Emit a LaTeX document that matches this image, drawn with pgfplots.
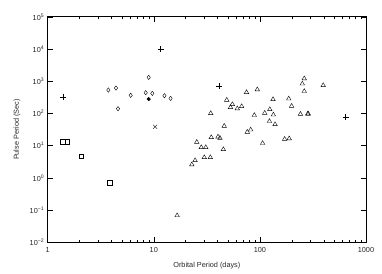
\documentclass[border=0pt]{standalone}
\usepackage{fontspec}
\setmainfont{Liberation Sans}
\usepackage{pgfplots}
\pgfplotsset{compat=1.18}
\begin{document}
\begin{tikzpicture}
\useasboundingbox (-47.7pt,-30.7pt) rectangle (334.3pt,242.3pt);
\begin{axis}[
 at={(0,0)}, anchor=south west, scale only axis,
 width=318.3pt, height=225.5pt,
 xmode=log, ymode=log,
 xmin=1, xmax=1000, ymin=1e-2, ymax=1e5,
 xtick={1,10,100,1000}, xticklabels={1,10,100,1000},
 ytick={1e-2,1e-1,1,10,100,1e3,1e4,1e5},
 yticklabels={10\textsuperscript{−2},10\textsuperscript{−1},10\textsuperscript{0},10\textsuperscript{1},10\textsuperscript{2},10\textsuperscript{3},10\textsuperscript{4},10\textsuperscript{5}},
 yminorticks=false,
 tick align=inside, xtick pos=both, ytick pos=both,
 major tick length=5pt, minor tick length=2.5pt,
 font=\fontsize{7.3}{8.5}\selectfont,
 tick label style={black!85},
 xticklabel style={yshift=-2pt},
 xlabel={Orbital Period (days)}, ylabel={Pulse Period (Sec)},
 label style={black!85},
 xlabel style={yshift=-2.5pt},
 ylabel style={yshift=2.5pt},
 axis line style={line width=0.6pt},
 every tick/.style={black, line width=0.5pt},
]
% plus
\addplot[only marks, mark=+, mark size=3pt, line width=0.45pt] coordinates {
(1.39,330) (11.6,9800) (41.4,695) (644,75.7)};
% diamonds
\addplot[only marks, mark=diamond, mark size=2.2pt, line width=0.4pt] coordinates {
(3.73,533) (4.40,615) (6.06,365) (4.60,140) (8.39,440) (9.68,421) (8.95,1321) (12.6,354) (14.4,294)};
% filled circle
\addplot[only marks, mark=*, mark size=1.8pt] coordinates {(8.95,280)};
% x
\addplot[only marks, mark=x, mark size=2.8pt, line width=0.4pt] coordinates {(10.3,38.6)};
% squares
\addplot[only marks, mark=square, mark size=2.2pt, line width=0.45pt] coordinates {
(1.39,13.2) (1.53,13.2) (2.07,4.75) (3.84,0.70)};
% triangles
\addplot[only marks, mark=triangle, mark size=2.6pt, line width=0.4pt] coordinates {
(16.6,0.068) (22.8,2.59) (24.5,3.49) (29.9,4.33) (34.1,4.33) (25.4,12.9) (28.0,8.85) (30.9,8.85)
(34.8,18.1) (40.3,18.9) (42.0,17.2) (45.2,7.67) (34.4,101) (46.1,40.6) (48.7,261) (55.0,192)
(52.8,155) (61.2,142) (67.3,166) (74.8,452) (94.5,552) (76.1,26.5) (81.9,31.2) (88.6,87.9)
(106,11.9) (111,103) (124,134) (134,91.1) (133,274) (123,57.3) (139,45.9) (171,16.0)
(189,16.6) (187,286) (199,170) (241,95.8) (282,97.2) (286,97.2) (262,1213) (251,836) (262,489) (395,746)};
\end{axis}
\end{tikzpicture}
\end{document}
